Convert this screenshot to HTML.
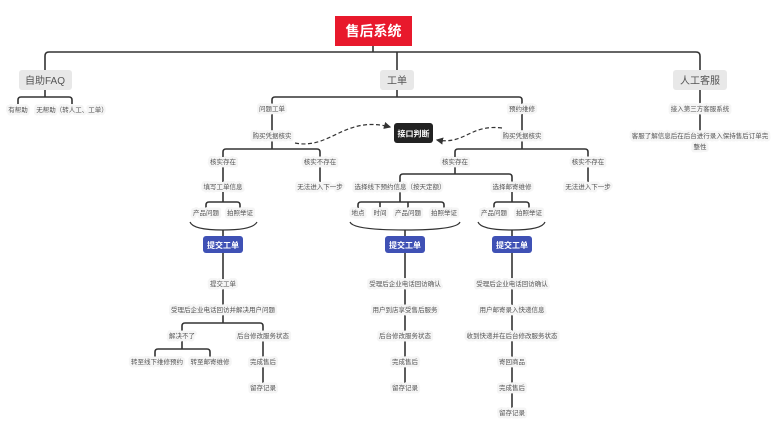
<!DOCTYPE html>
<html><head><meta charset="utf-8"><style>
html,body{margin:0;padding:0;background:#fff;width:775px;height:425px;overflow:hidden}
text{font-family:"Liberation Sans","Noto Sans CJK SC",sans-serif}
</style></head><body>
<svg width="775" height="425" viewBox="0 0 775 425" xmlns="http://www.w3.org/2000/svg">
<defs><marker id="ah" markerWidth="6" markerHeight="6" refX="5" refY="3" orient="auto"><path d="M0,0 L6,3 L0,6 z" fill="#333"/></marker></defs>
<g fill="none" stroke="#333" stroke-width="1.6" stroke-linejoin="round">
<path d="M373,46 V52"/>
<path d="M45,70 V56 Q45,52 49,52 H696 Q700,52 700,56 V70"/>
<path d="M397,52 V70"/>
<path d="M45,90 V97"/>
<path d="M18,104 V100 Q18,97 21,97 H69 Q72,97 72,100 V104"/>
<path d="M397,90 V97"/>
<path d="M272,104 V100 Q272,97 275,97 H519 Q522,97 522,100 V104"/>
<path d="M272,114 V131"/><path d="M522,114 V131"/>
<path d="M272,141 V149"/>
<path d="M223,157 V152 Q223,149 226,149 H317 Q320,149 320,152 V157"/>
<path d="M223,167 V182"/><path d="M320,167 V182"/>
<path d="M223,192 V202"/>
<path d="M206,208 V205 Q206,202 209,202 H237 Q240,202 240,205 V208"/>
<path d="M190,222 Q193,230 223,230 Q253,230 257,222" stroke-width="1.2"/>
<path d="M223,230 V236"/>
<path d="M223,253 V279"/><path d="M223,289 V305"/><path d="M223,315 V323"/>
<path d="M182,331 V326 Q182,323 185,323 H260 Q263,323 263,326 V331"/>
<path d="M182,341 V349"/>
<path d="M155,357 V352 Q155,349 158,349 H207 Q210,349 210,352 V357"/>
<path d="M263,341 V357"/><path d="M263,367 V383"/>
<path d="M522,141 V149"/>
<path d="M455,157 V152 Q455,149 458,149 H585 Q588,149 588,152 V157"/>
<path d="M588,167 V182"/>
<path d="M455,167 V174"/>
<path d="M400,182 V177 Q400,174 403,174 H509 Q512,174 512,177 V182"/>
<path d="M400,192 V202"/>
<path d="M358,208 V205 Q358,202 361,202 H441 Q444,202 444,205 V208"/>
<path d="M380,202 V208"/><path d="M408,202 V208"/>
<path d="M350,222 Q353,230 405,230 Q457,230 460,222" stroke-width="1.2"/>
<path d="M405,230 V236"/>
<path d="M405,253 V388"/>
<path d="M512,192 V202"/>
<path d="M494,208 V205 Q494,202 497,202 H526 Q529,202 529,205 V208"/>
<path d="M478,222 Q481,230 512,230 Q542,230 545,222" stroke-width="1.2"/>
<path d="M512,230 V236"/>
<path d="M512,253 V413"/>
<path d="M700,90 V131"/>
<path d="M295,143 C330,150 345,115 390,127" stroke-dasharray="4,2.5" stroke-width="1.2" marker-end="url(#ah)"/>
<path d="M502,128 C470,124 465,145 437,140" stroke-dasharray="4,2.5" stroke-width="1.2" marker-end="url(#ah)"/>
</g>
<rect x="335" y="16" width="77" height="30" fill="#e8192c"/>
<text x="373.5" y="36" font-size="14" font-weight="bold" fill="#fff" text-anchor="middle">售后系统</text>
<g fill="#e8e8e8">
<rect x="19" y="70" width="53" height="20" rx="3"/>
<rect x="380" y="70" width="34" height="20" rx="3"/>
<rect x="673" y="70" width="54" height="20" rx="3"/>
</g>
<g font-size="10" fill="#555" text-anchor="middle">
<text x="45" y="84">自助FAQ</text><text x="397" y="84">工单</text><text x="700" y="84">人工客服</text>
</g>
<rect x="394" y="123" width="39" height="20" rx="3" fill="#222"/>
<text x="413.5" y="136.5" font-size="8" font-weight="bold" fill="#fff" text-anchor="middle">接口判断</text>
<g fill="#3f51b5">
<rect x="203" y="236" width="40" height="17" rx="3"/>
<rect x="385" y="236" width="40" height="17" rx="3"/>
<rect x="492" y="236" width="40" height="17" rx="3"/>
</g>
<g font-size="8" font-weight="bold" fill="#fff" text-anchor="middle">
<text x="223" y="248">提交工单</text><text x="405" y="248">提交工单</text><text x="512" y="248">提交工单</text>
</g>
<g font-size="6.5" fill="#555" text-anchor="middle" style="paint-order:stroke" stroke="#f5f5f5" stroke-width="5" stroke-linejoin="round">
<text x="18" y="112">有帮助</text><text x="72" y="112">无帮助（转人工、工单）</text>
<text x="272" y="111">问题工单</text><text x="522" y="111">预约维修</text>
<text x="272" y="138">购买凭据核实</text><text x="522" y="138">购买凭据核实</text>
<text x="223" y="164">核实存在</text><text x="320" y="164">核实不存在</text>
<text x="455" y="164">核实存在</text><text x="588" y="164">核实不存在</text>
<text x="223" y="189">填写工单信息</text><text x="320" y="189">无法进入下一步</text>
<text x="400" y="189">选择线下预约信息（按天定额）</text><text x="512" y="189">选择邮寄维修</text><text x="588" y="189">无法进入下一步</text>
<text x="206" y="215">产品问题</text><text x="240" y="215">拍照举证</text>
<text x="358" y="215">地点</text><text x="380" y="215">时间</text><text x="408" y="215">产品问题</text><text x="444" y="215">拍照举证</text>
<text x="494" y="215">产品问题</text><text x="529" y="215">拍照举证</text>
<text x="223" y="286">提交工单</text>
<text x="223" y="312">受理后企业电话回访并解决用户问题</text>
<text x="182" y="338">解决不了</text><text x="263" y="338">后台修改服务状态</text>
<text x="157" y="364">转至线下维修预约</text><text x="210" y="364">转至邮寄维修</text>
<text x="263" y="364">完成售后</text><text x="263" y="390">留存记录</text>
<text x="405" y="286">受理后企业电话回访确认</text><text x="405" y="312">用户到店享受售后服务</text>
<text x="405" y="338">后台修改服务状态</text><text x="405" y="364">完成售后</text><text x="405" y="390">留存记录</text>
<text x="512" y="286">受理后企业电话回访确认</text><text x="512" y="312">用户邮寄录入快递信息</text>
<text x="512" y="338">收到快递并在后台修改服务状态</text><text x="512" y="364">寄回商品</text>
<text x="512" y="390">完成售后</text><text x="512" y="415">留存记录</text>
<text x="700" y="111">接入第三方客服系统</text>
<text x="700" y="138">客服了解信息后在后台进行录入保持售后订单完</text>
<text x="700" y="149">整性</text>
</g>
</svg>
</body></html>
